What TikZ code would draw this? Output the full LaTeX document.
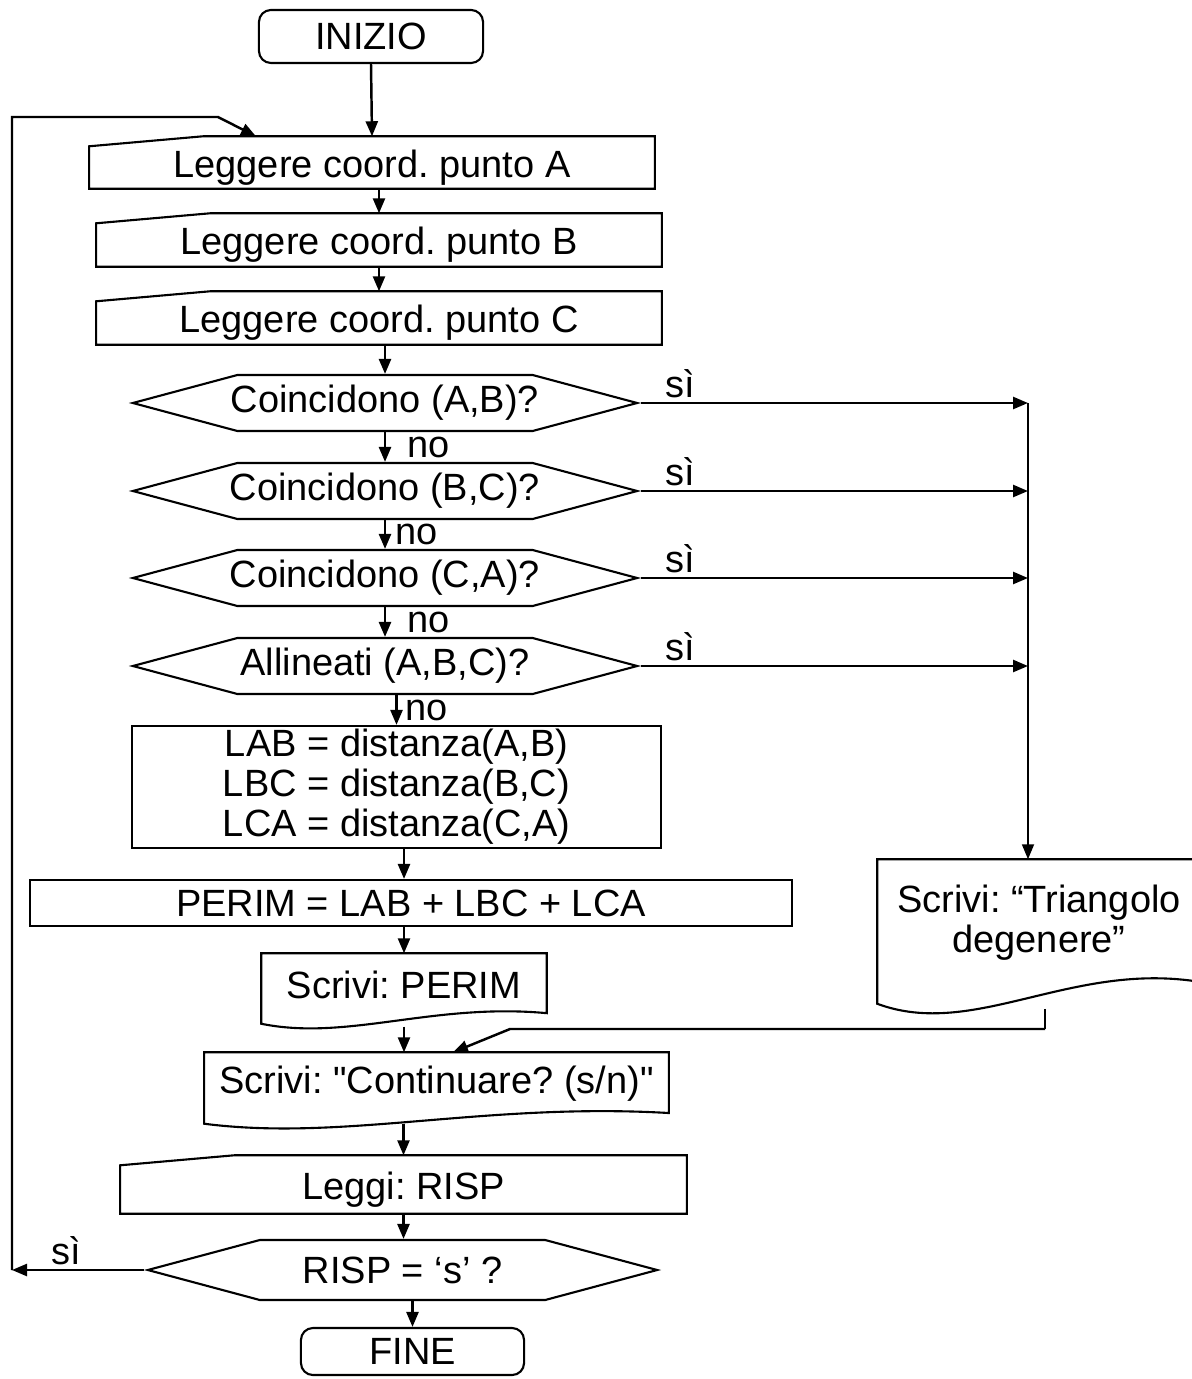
\documentclass[tikz,border=0pt]{standalone}
\usepackage{fontspec}
\setmainfont{Liberation Sans}[Ligatures=TeXOff]
\usetikzlibrary{calc,shapes.symbols,arrows.meta}

\begin{document}
\frenchspacing
\begin{tikzpicture}[x=0.01cm,y=-0.01cm,
    font=\fontsize{10.8pt}{11.4pt}\selectfont,
    every node/.style={inner sep=0pt},
    terminal/.style ={draw, line width=0.6pt, rounded corners=1.2mm},
    process/.style ={draw, line width=0.6pt, align=center},
    inputbox/.style ={align=center},
    docbox/.style ={align=center},
    decision/.style ={signal, signal to=east and west, signal pointer angle=30,
        draw, line width=0.6pt, minimum width=5.04cm, minimum height=0.56cm, inner xsep=-2mm},
    arr/.style ={line width=0.7pt, -{Triangle[length=1.5mm,width=1.2mm]}},
    lbl/.style ={inner sep=1pt}]
   \useasboundingbox (0,0) rectangle (1192,1379);

   % nodes
   \node[terminal, minimum width=2.24cm, minimum height=0.53cm] (start) at (371,36.5) {INIZIO};
   \node[inputbox, minimum width=5.64cm, minimum height=0.41cm] (inA) at (372,167.5) {Leggere coord. punto A};
   \node[inputbox, minimum width=5.64cm, minimum height=0.42cm] (inB) at (379,245) {Leggere coord. punto B};
   \node[inputbox, minimum width=5.64cm, minimum height=0.42cm] (inC) at (379,323) {Leggere coord. punto C};
   \node[decision] (d1) at (385,403) {Coincidono (A,B)?};
   \node[decision] (d2) at (385,491) {Coincidono (B,C)?};
   \node[decision] (d3) at (385,578) {Coincidono (C,A)?};
   \node[decision] (d4) at (385,666) {Allineati (A,B,C)?};
   \node[process, minimum width=5.29cm, minimum height=1.22cm] (calc) at (396.5,787)
        {LAB = distanza(A,B)\\LBC = distanza(B,C)\\LCA = distanza(C,A)};
   \node[process, minimum width=7.62cm, minimum height=0.46cm] (perim) at (411,903) {PERIM = LAB + LBC + LCA};
   \node[docbox, minimum width=2.84cm, minimum height=0.69cm, text depth=2.3pt] (docP) at (404,988.5) {Scrivi: PERIM};
   \node[docbox, minimum width=4.63cm, minimum height=0.70cm, text depth=4.6pt] (docC) at (436.5,1088) {Scrivi: "Continuare? (s/n)"};
   \node[docbox, minimum width=3.22cm, minimum height=1.43cm, text depth=7.4pt] (tri) at (1039,931.5) {Scrivi: “Triangolo\\degenere”};
   \node[inputbox, minimum width=5.65cm, minimum height=0.47cm] (inR) at (403.5,1189.5) {Leggi: RISP};
   \node[decision, minimum width=5.09cm, minimum height=0.60cm] (dR) at (402.5,1270) {RISP = ‘s’ ?};
   \node[terminal, minimum width=2.23cm, minimum height=0.47cm] (fine) at (412.5,1351.5) {FINE};

   % input and document outlines
   \foreach \n in {inA,inB,inC,inR}
     \draw[line width=0.6pt] (\n.south west) -- (\n.north west) -- ([xshift=11.4mm,yshift=1mm]\n.north west)
       -- ([yshift=1mm]\n.north east) -- (\n.south east) -- cycle;
   \foreach \n in {docP,docC,tri}
     \draw[line width=0.6pt] (\n.south west)
       .. controls ($($(\n.south west)!0.3!(\n.south east)$)!-0.25!($(\n.north west)!0.3!(\n.north east)$)$)
       and ($($(\n.south west)!0.6!(\n.south east)$)!0.3!($(\n.north west)!0.6!(\n.north east)$)$)
       .. ($(\n.south east)!0.15!(\n.north east)$) -- (\n.north east) -- (\n.north west) -- cycle;

   \coordinate (jr) at (1028,403);
   \coordinate (lp1) at (12,1270);
   \coordinate (lp2) at (12,117);
   \coordinate (lp3) at (218,117);
   \coordinate (jt) at (1045,1029);
   \coordinate (jd) at (510,1029);

   % main flow
   \draw[arr] (start.south) -- ([yshift=1mm]inA.north);
   \draw[arr] (inA.south -| inB.north) -- ([yshift=1mm]inB.north);
   \draw[arr] (inB.south) -- ([yshift=1mm]inC.north);
   \draw[arr] (inC.south -| d1.north) -- (d1.north);
   \draw[arr] (d1.south) -- node[lbl, right, xshift=1.8mm] {no} (d2.north);
   \draw[arr] (d2.south) -- node[lbl, right, xshift=0.6mm] {no} (d3.north);
   \draw[arr] (d3.south) -- node[lbl, right, xshift=1.8mm] {no} (d4.north);
   \draw[arr] (d4.south -| calc.north) -- node[lbl, right, xshift=0.4mm] {no} (calc.north);
   \draw[arr] (calc.south -| docP.north) -- (perim.north -| docP.north);
   \draw[arr] (perim.south -| docP.north) -- (docP.north);
   \draw[arr] ([yshift=-0.3mm]docP.south) -- (docC.north -| docP.south);
   \draw[arr] (inR.north |- docC.south) -- ([yshift=1mm]inR.north);
   \draw[arr] (inR.south) -- (inR.south |- dR.north);
   \draw[arr] (fine.north |- dR.south) -- (fine.north);

   % yes branches
   \draw[arr] (d1.east) -- node[lbl, above, pos=0.1] {sì} (d1.east -| jr);
   \draw[arr] (d2.east) -- node[lbl, above, pos=0.1] {sì} (d2.east -| jr);
   \draw[arr] (d3.east) -- node[lbl, above, pos=0.1] {sì} (d3.east -| jr);
   \draw[arr] (d4.east) -- node[lbl, above, pos=0.1] {sì} (d4.east -| jr);
   \draw[arr, line width=0.5pt] (jr) -- (jr |- tri.north);
   \draw[line width=0.4pt] ([yshift=-0.5mm]tri.south -| jt) -- (jt);
   \draw[arr] (jt) -- (jd) -- ([xshift=1.65mm]docC.north);

   % loop back
   \draw[arr] (dR.west) -- node[lbl, above, pos=0.59] {sì} (lp1);
   \draw[arr] (lp1) -- (lp2) -- (lp3) -- ([xshift=-11.6mm,yshift=1mm]inA.north);
 \end{tikzpicture}
\end{document}
